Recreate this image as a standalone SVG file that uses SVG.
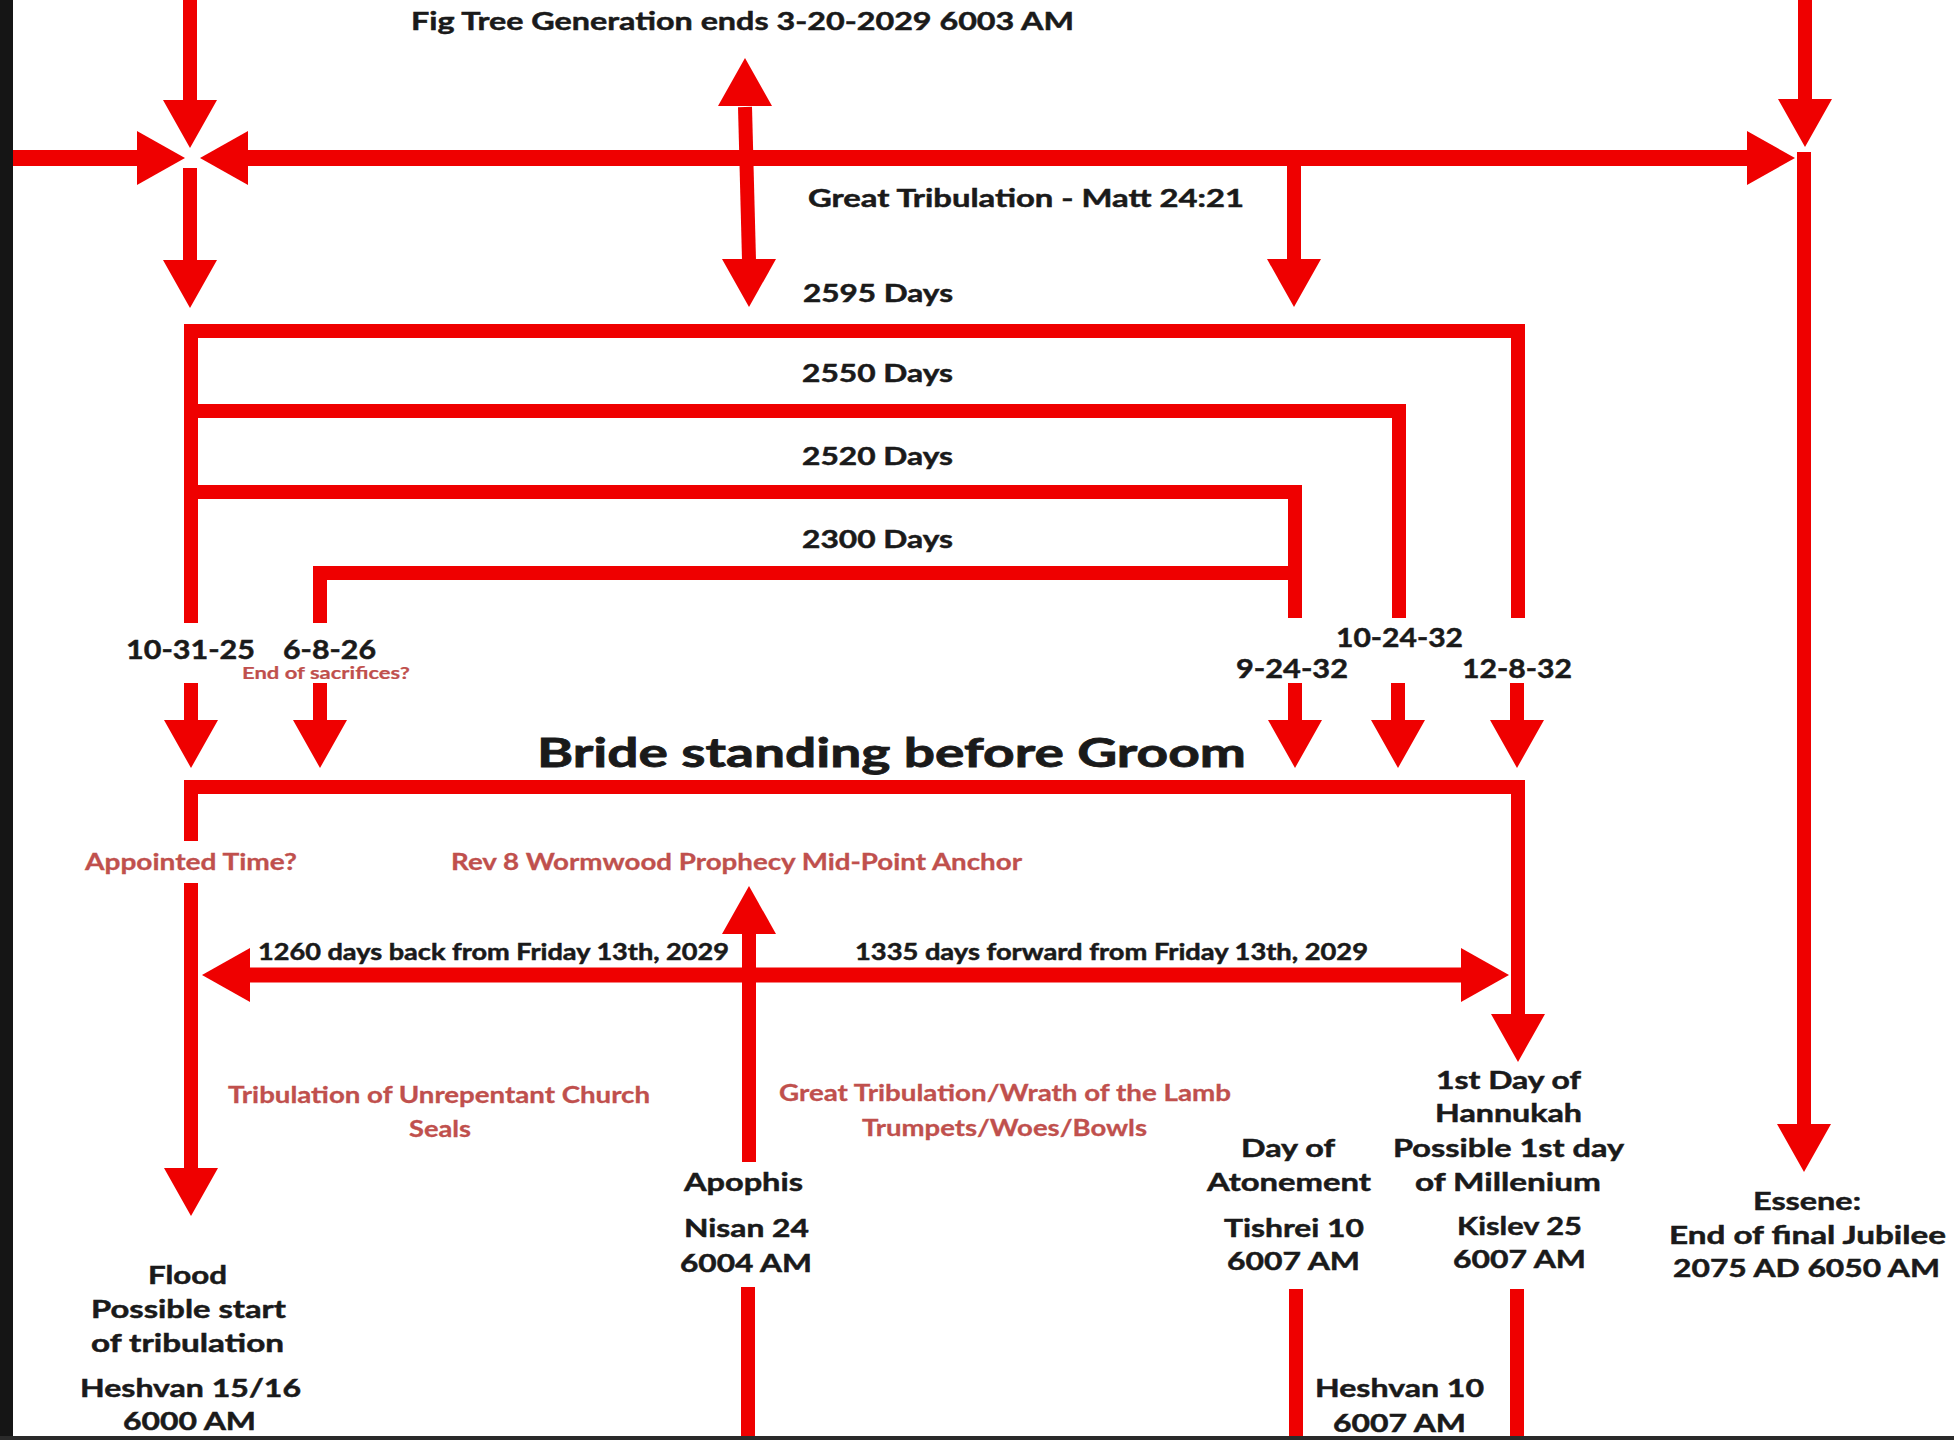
<svg xmlns="http://www.w3.org/2000/svg" xmlns:xlink="http://www.w3.org/1999/xlink" width="1954" height="1440" viewBox="0 0 1954 1440">
<style>
.ln{stroke:#ef0000;stroke-width:14;fill:none;stroke-linejoin:miter;stroke-linecap:butt}
.thick{stroke-width:16}
.ah{fill:#ef0000}
text{font-family:Lato,"Open Sans","Liberation Sans",sans-serif;font-weight:700;fill:#1a1a1a;stroke:#1a1a1a;stroke-width:0.5;font-size:25px}
.big{font-size:40px;stroke-width:0.8}
.dt{font-size:27px}
.sm{font-size:22px}
.r{fill:#c0504d;stroke:#c0504d;stroke-width:0.3;font-size:22px}
.rs{fill:#c0504d;stroke:#c0504d;stroke-width:0.2;font-size:17px}
</style>
<defs>
<path id="ahD" class="ah" d="M-27,0 L27,0 L0,48 Z"/>
</defs>
<rect x="0" y="0" width="1954" height="1440" fill="#ffffff"/>
<rect x="0" y="0" width="13" height="1440" fill="#151515"/>
<rect x="0" y="1436" width="1954" height="4" fill="#2a2a2a"/>

<g id="connectors">
  <line class="ln" x1="190" y1="0" x2="190" y2="101"/>
  <line class="ln thick" x1="13" y1="158" x2="138" y2="158"/>
  <line class="ln thick" x1="247" y1="158" x2="1748" y2="158"/>
  <line class="ln" x1="190" y1="168" x2="190" y2="261"/>
  <line class="ln" x1="745" y1="107" x2="749" y2="260"/>
  <line class="ln" x1="1294" y1="158" x2="1294" y2="260"/>
  <line class="ln" x1="1805" y1="0" x2="1805" y2="100"/>
  <line class="ln" x1="1804" y1="152" x2="1804" y2="1125"/>
  <use xlink:href="#ahD" transform="translate(190,100)"/>
  <use xlink:href="#ahD" transform="translate(190,260)"/>
  <use xlink:href="#ahD" transform="translate(749,259)"/>
  <use xlink:href="#ahD" transform="translate(1294,259)"/>
  <use xlink:href="#ahD" transform="translate(1805,99)"/>
  <use xlink:href="#ahD" transform="translate(1804,1124)"/>
  <use xlink:href="#ahD" transform="translate(745,106) rotate(180)"/>
  <use xlink:href="#ahD" transform="translate(137,158) rotate(-90)"/>
  <use xlink:href="#ahD" transform="translate(1747,158) rotate(-90)"/>
  <use xlink:href="#ahD" transform="translate(248,158) rotate(90)"/>

  <polyline class="ln" points="191,623 191,331 1518,331 1518,618"/>
  <polyline class="ln" points="191,411 1399,411 1399,618"/>
  <polyline class="ln" points="191,492 1295,492 1295,618"/>
  <polyline class="ln" points="320,623 320,573 1295,573"/>

  <line class="ln" x1="191" y1="683" x2="191" y2="721"/>
  <line class="ln" x1="320" y1="683" x2="320" y2="721"/>
  <line class="ln" x1="1295" y1="683" x2="1295" y2="721"/>
  <line class="ln" x1="1398" y1="683" x2="1398" y2="721"/>
  <line class="ln" x1="1517" y1="683" x2="1517" y2="721"/>
  <use xlink:href="#ahD" transform="translate(191,720)"/>
  <use xlink:href="#ahD" transform="translate(320,720)"/>
  <use xlink:href="#ahD" transform="translate(1295,720)"/>
  <use xlink:href="#ahD" transform="translate(1398,720)"/>
  <use xlink:href="#ahD" transform="translate(1517,720)"/>

  <polyline class="ln" points="191,841 191,787 1518,787 1518,1015"/>
  <use xlink:href="#ahD" transform="translate(1518,1014)"/>
  <line class="ln" x1="191" y1="883" x2="191" y2="1169"/>
  <use xlink:href="#ahD" transform="translate(191,1168)"/>

  <line class="ln" style="stroke-width:15" x1="249" y1="975" x2="1462" y2="975"/>
  <use xlink:href="#ahD" transform="translate(250,975) rotate(90)"/>
  <use xlink:href="#ahD" transform="translate(1461,975) rotate(-90)"/>

  <line class="ln" x1="749" y1="933" x2="749" y2="1162"/>
  <use xlink:href="#ahD" transform="translate(749,934) rotate(180)"/>
  <line class="ln" x1="748" y1="1287" x2="748" y2="1436"/>

  <line class="ln" x1="1296" y1="1289" x2="1296" y2="1436"/>
  <line class="ln" x1="1517" y1="1289" x2="1517" y2="1436"/>
</g>

<g id="fig-tree"><text x="411" y="30" textLength="663" lengthAdjust="spacingAndGlyphs">Fig Tree Generation ends 3-20-2029 6003 AM</text></g>
<g id="great-tribulation"><text x="808" y="207" textLength="436" lengthAdjust="spacingAndGlyphs">Great Tribulation - Matt 24:21</text></g>
<g id="days-2595"><text x="803" y="302" textLength="150" lengthAdjust="spacingAndGlyphs">2595 Days</text></g>
<g id="days-2550"><text x="802" y="382" textLength="151" lengthAdjust="spacingAndGlyphs">2550 Days</text></g>
<g id="days-2520"><text x="802" y="465" textLength="151" lengthAdjust="spacingAndGlyphs">2520 Days</text></g>
<g id="days-2300"><text x="802" y="548" textLength="151" lengthAdjust="spacingAndGlyphs">2300 Days</text></g>

<g id="date-10-31-25"><text class="dt" x="126" y="659" textLength="129" lengthAdjust="spacingAndGlyphs">10-31-25</text></g>
<g id="date-6-8-26"><text class="dt" x="283" y="659" textLength="93" lengthAdjust="spacingAndGlyphs">6-8-26</text>
<text class="rs" x="242" y="679" textLength="168" lengthAdjust="spacingAndGlyphs">End of sacrifices?</text></g>
<g id="date-9-24-32"><text class="dt" x="1236" y="678" textLength="112" lengthAdjust="spacingAndGlyphs">9-24-32</text></g>
<g id="date-10-24-32"><text class="dt" x="1336" y="647" textLength="127" lengthAdjust="spacingAndGlyphs">10-24-32</text></g>
<g id="date-12-8-32"><text class="dt" x="1462" y="678" textLength="110" lengthAdjust="spacingAndGlyphs">12-8-32</text></g>

<g id="bride"><text class="big" x="537" y="767" textLength="709" lengthAdjust="spacingAndGlyphs">Bride standing before Groom</text></g>
<g id="appointed-time"><text class="r" x="85" y="870" textLength="212" lengthAdjust="spacingAndGlyphs">Appointed Time?</text></g>
<g id="wormwood"><text class="r" x="451" y="870" textLength="571" lengthAdjust="spacingAndGlyphs">Rev 8 Wormwood Prophecy Mid-Point Anchor</text></g>
<g id="days-1260"><text class="sm" x="258" y="960" textLength="471" lengthAdjust="spacingAndGlyphs">1260 days back from Friday 13th, 2029</text></g>
<g id="days-1335"><text class="sm" x="855" y="960" textLength="513" lengthAdjust="spacingAndGlyphs">1335 days forward from Friday 13th, 2029</text></g>

<g id="unrepentant"><text class="r" x="228" y="1103" textLength="422" lengthAdjust="spacingAndGlyphs">Tribulation of Unrepentant Church</text>
<text class="r" x="409" y="1137" textLength="62" lengthAdjust="spacingAndGlyphs">Seals</text></g>
<g id="wrath"><text class="r" x="779" y="1101" textLength="452" lengthAdjust="spacingAndGlyphs">Great Tribulation/Wrath of the Lamb</text>
<text class="r" x="862" y="1136" textLength="285" lengthAdjust="spacingAndGlyphs">Trumpets/Woes/Bowls</text></g>

<g id="apophis"><text x="684" y="1191" textLength="119" lengthAdjust="spacingAndGlyphs">Apophis</text>
<text x="684" y="1237" textLength="125" lengthAdjust="spacingAndGlyphs">Nisan 24</text>
<text x="680" y="1272" textLength="132" lengthAdjust="spacingAndGlyphs">6004 AM</text></g>

<g id="flood"><text x="148" y="1284" textLength="79" lengthAdjust="spacingAndGlyphs">Flood</text>
<text x="91" y="1318" textLength="195" lengthAdjust="spacingAndGlyphs">Possible start</text>
<text x="91" y="1352" textLength="193" lengthAdjust="spacingAndGlyphs">of tribulation</text>
<text x="80" y="1397" textLength="221" lengthAdjust="spacingAndGlyphs">Heshvan 15/16</text>
<text x="123" y="1430" textLength="133" lengthAdjust="spacingAndGlyphs">6000 AM</text></g>

<g id="atonement"><text x="1241" y="1157" textLength="94" lengthAdjust="spacingAndGlyphs">Day of</text>
<text x="1207" y="1191" textLength="164" lengthAdjust="spacingAndGlyphs">Atonement</text>
<text x="1224" y="1237" textLength="140" lengthAdjust="spacingAndGlyphs">Tishrei 10</text>
<text x="1227" y="1270" textLength="133" lengthAdjust="spacingAndGlyphs">6007 AM</text></g>

<g id="hannukah"><text x="1436" y="1089" textLength="145" lengthAdjust="spacingAndGlyphs">1st Day of</text>
<text x="1435" y="1122" textLength="147" lengthAdjust="spacingAndGlyphs">Hannukah</text>
<text x="1393" y="1157" textLength="231" lengthAdjust="spacingAndGlyphs">Possible 1st day</text>
<text x="1415" y="1191" textLength="186" lengthAdjust="spacingAndGlyphs">of Millenium</text>
<text x="1457" y="1235" textLength="125" lengthAdjust="spacingAndGlyphs">Kislev 25</text>
<text x="1453" y="1268" textLength="133" lengthAdjust="spacingAndGlyphs">6007 AM</text></g>

<g id="essene"><text x="1753" y="1210" textLength="108" lengthAdjust="spacingAndGlyphs">Essene:</text>
<text x="1669" y="1244" textLength="277" lengthAdjust="spacingAndGlyphs">End of final Jubilee</text>
<text x="1673" y="1277" textLength="267" lengthAdjust="spacingAndGlyphs">2075 AD 6050 AM</text></g>

<g id="heshvan-10"><text x="1315" y="1397" textLength="169" lengthAdjust="spacingAndGlyphs">Heshvan 10</text>
<text x="1333" y="1432" textLength="133" lengthAdjust="spacingAndGlyphs">6007 AM</text></g>
</svg>
